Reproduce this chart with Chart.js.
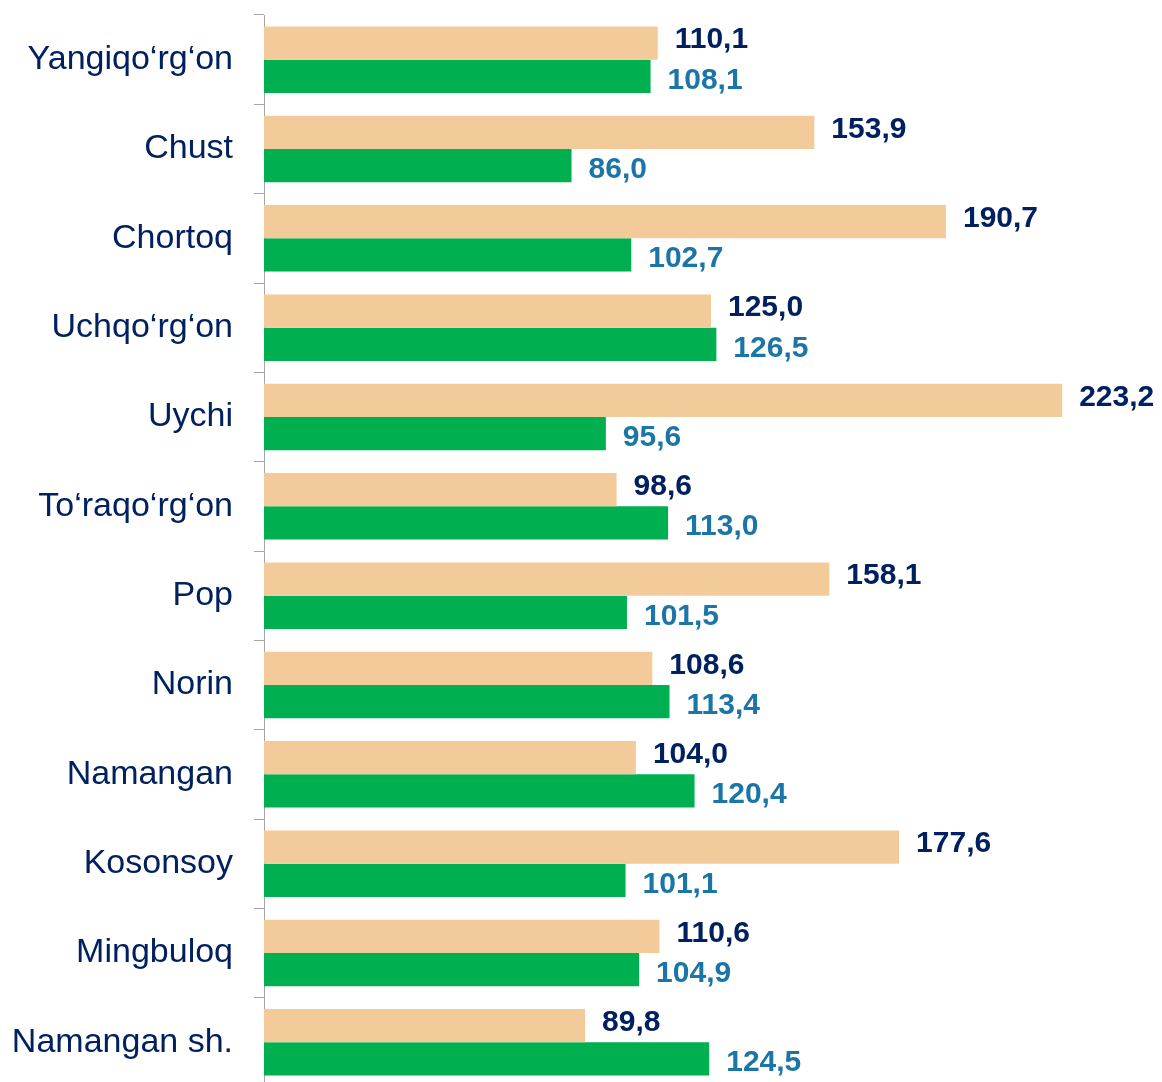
<!DOCTYPE html>
<html>
<head>
<meta charset="utf-8">
<script src="https://cdn.jsdelivr.net/npm/chart.js@4"></script>
<style>
  html, body { margin: 0; padding: 0; background: #fff; overflow: hidden; }
  canvas { display: block; }
</style>
</head>
<body>
<canvas id="tumanChart" width="1162" height="1090"></canvas>
<script>
const tumanlar = ['Yangiqo‘rg‘on', 'Chust', 'Chortoq', 'Uchqo‘rg‘on', 'Uychi', 'To‘raqo‘rg‘on',
                  'Pop', 'Norin', 'Namangan', 'Kosonsoy', 'Mingbuloq', 'Namangan sh.'];
const qiymat1 = [110.1, 153.9, 190.7, 125.0, 223.2, 98.6, 158.1, 108.6, 104.0, 177.6, 110.6, 89.8];
const qiymat2 = [108.1, 86.0, 102.7, 126.5, 95.6, 113.0, 101.5, 113.4, 120.4, 101.1, 104.9, 124.5];

const labelColors = ['#002060', '#1B75A6'];
const labelShift = [-3, 4];

// qiymat yozuvlari (bar oxiridan o'ngga)
const valueLabels = {
    id: 'valueLabels',
    afterDatasetsDraw(chart) {
        const ctx = chart.ctx;
        ctx.save();
        ctx.font = 'bold 30px "Liberation Sans", Arial, sans-serif';
        ctx.textAlign = 'left';
        ctx.textBaseline = 'middle';
        chart.data.datasets.forEach((ds, i) => {
            const meta = chart.getDatasetMeta(i);
            ctx.fillStyle = labelColors[i];
            meta.data.forEach((bar, j) => {
                const txt = ds.data[j].toFixed(1).replace('.', ',');
                ctx.fillText(txt, bar.x + 17, bar.y + labelShift[i]);
            });
        });
        ctx.restore();
    }
};

const ctx = document.getElementById('tumanChart').getContext('2d');
const tumanChart = new Chart(ctx, {
    type: 'bar',
    data: {
        labels: tumanlar,
        datasets: [{
            data: qiymat1,
            backgroundColor: '#F3CB9B',
            categoryPercentage: 0.745,
            barPercentage: 1.0
        }, {
            data: qiymat2,
            backgroundColor: '#00B050',
            categoryPercentage: 0.745,
            barPercentage: 1.0
        }]
    },
    options: {
        indexAxis: 'y',
        responsive: false,
        animation: false,
        layout: { padding: { top: 15, bottom: 3, right: 4, left: 0 } },
        scales: {
            x: {
                display: false,
                min: 0,
                max: 250
            },
            y: {
                afterFit(scale) {
                    scale.width = 264;
                    scale.paddingTop = 0;
                    scale.paddingBottom = 0;
                },
                border: { display: true, color: '#A6A6A6', width: 1 },
                grid: {
                    display: true,
                    offset: true,
                    drawOnChartArea: false,
                    drawTicks: true,
                    tickLength: 10,
                    color: '#A6A6A6'
                },
                ticks: {
                    color: '#002060',
                    padding: 21,
                    font: { family: '"Liberation Sans", Arial, sans-serif', size: 34 }
                }
            }
        },
        plugins: {
            legend: { display: false },
            tooltip: { enabled: false }
        }
    },
    plugins: [valueLabels]
});
</script>
</body>
</html>
